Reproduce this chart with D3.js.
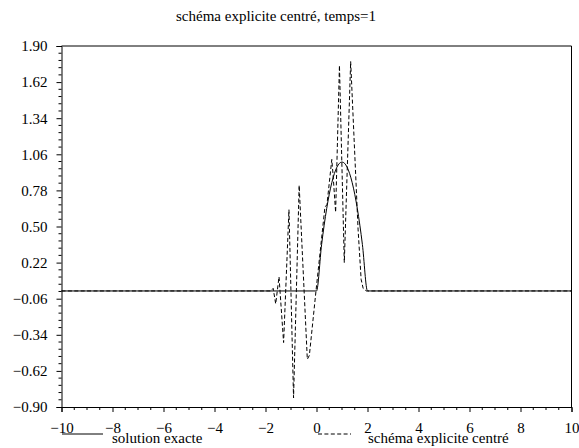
<!DOCTYPE html>
<html>
<head>
<meta charset="utf-8">
<script src="https://cdn.jsdelivr.net/npm/d3@7"></script>
<style>
  html, body { margin: 0; padding: 0; background: #fff; }
  svg { display: block; }
</style>
</head>
<body>
<svg id="chart" width="579" height="448"></svg>
<script>
const FONT = "Liberation Serif";

// Title and legend texts
const title = "schéma explicite centré, temps=1";
const seriesNames = ["solution exacte", "schéma explicite centré"];

// Axis ticks
const xTicks = [-10, -8, -6, -4, -2, 0, 2, 4, 6, 8, 10];
const yTicks = [-0.90, -0.62, -0.34, -0.06, 0.22, 0.50, 0.78, 1.06, 1.34, 1.62, 1.90];

// Exact solution at t = 1
const exactX = [-10, 0, 0.2, 0.4, 0.6, 0.8, 1.0, 1.2, 1.4, 1.6, 1.8, 2.0, 10];
const exactY = [0, 0, 0.36, 0.64, 0.84, 0.96, 1.00, 0.96, 0.84, 0.64, 0.36, 0, 0];

// Centred explicit scheme at t = 1
const schemeX = [-10, -1.79, -1.70, -1.60, -1.47, -1.29, -1.08, -0.90, -0.68, -0.36, -0.28,
                 -0.02, 0.33, 0.41, 0.60, 0.65, 0.75, 0.90, 1.09, 1.34, 1.63, 1.75, 1.83, 1.95, 10];
const schemeY = [0, 0, 0.02, -0.10, 0.11, -0.40, 0.63, -0.83, 0.82, -0.53, -0.50,
                 0.00, 0.65, 0.67, 1.02, 0.90, 0.61, 1.75, 0.22, 1.78, 0.48, 0.09, 0.02, 0, 0];

const svg = d3.select("#chart");
const m = { left: 61.5, right: 571.5, top: 46, bottom: 407 };

const x = d3.scaleLinear().domain([-10, 10]).range([m.left, m.right]);
const y = d3.scaleLinear().domain([-0.90, 1.90]).range([m.bottom, m.top]);

const fmtY = v => d3.format(".2f")(v).replace("-", "\u2212");
const fmtX = v => String(v).replace("-", "\u2212");

// Frame: top and right edges
svg.append("path")
  .attr("d", `M${m.left},${m.top}H${m.right}V${m.bottom}`)
  .attr("fill", "none").attr("stroke", "#000").attr("stroke-width", 1);

// Minor ticks
const xMinor = d3.range(-10, 10.001, 0.5).filter(v => !xTicks.includes(v));
const yMinor = [];
for (let i = 0; i < yTicks.length - 1; i++)
  for (let k = 1; k < 5; k++) yMinor.push(yTicks[i] + k * 0.056);

// Bottom axis
const gx = svg.append("g").attr("transform", `translate(0,${m.bottom})`)
  .call(d3.axisBottom(x).tickValues(xTicks).tickFormat(fmtX).tickSize(5).tickPadding(10));
gx.append("g").selectAll("line").data(xMinor).join("line")
  .attr("x1", d => x(d)).attr("x2", d => x(d)).attr("y1", 0).attr("y2", 3)
  .attr("stroke", "#000");

// Left axis
const gy = svg.append("g").attr("transform", `translate(${m.left},0)`)
  .call(d3.axisLeft(y).tickValues(yTicks).tickFormat(fmtY).tickSize(5).tickPadding(9));
gy.append("g").selectAll("line").data(yMinor).join("line")
  .attr("y1", d => y(d)).attr("y2", d => y(d)).attr("x1", 0).attr("x2", -3)
  .attr("stroke", "#000");

[gx, gy].forEach(g => {
  g.attr("font-family", FONT).attr("font-size", 15);
  g.select(".domain").attr("stroke", "#000");
  g.selectAll(".tick line").attr("stroke", "#000");
  g.selectAll(".tick text").attr("font-family", FONT).attr("font-size", 15).attr("fill", "#000");
});

// Curves
const line = d3.line().x(d => x(d[0])).y(d => y(d[1]));
const smooth = d3.line().x(d => x(d[0])).y(d => y(d[1])).curve(d3.curveMonotoneX);

svg.append("path")
  .datum(exactX.map((v, i) => [v, exactY[i]]))
  .attr("d", smooth).attr("fill", "none").attr("stroke", "#000").attr("stroke-width", 1);

svg.append("path")
  .datum(schemeX.map((v, i) => [v, schemeY[i]]))
  .attr("d", line).attr("fill", "none").attr("stroke", "#000").attr("stroke-width", 1)
  .attr("stroke-dasharray", "4,2.4");

// Title
svg.append("text").attr("x", 176).attr("y", 21)
  .attr("font-family", FONT).attr("font-size", 15).text(title);

// Legend
const legend = [
  { x1: 62, x2: 103, tx: 112, dash: null },
  { x1: 318, x2: 351, tx: 368, dash: "4,2.4" }
];
legend.forEach((l, i) => {
  svg.append("line").attr("x1", l.x1).attr("x2", l.x2).attr("y1", 434).attr("y2", 434)
    .attr("stroke", "#000").attr("stroke-dasharray", l.dash);
  svg.append("text").attr("x", l.tx).attr("y", 443)
    .attr("font-family", FONT).attr("font-size", 15).text(seriesNames[i]);
});
</script>
</body>
</html>
